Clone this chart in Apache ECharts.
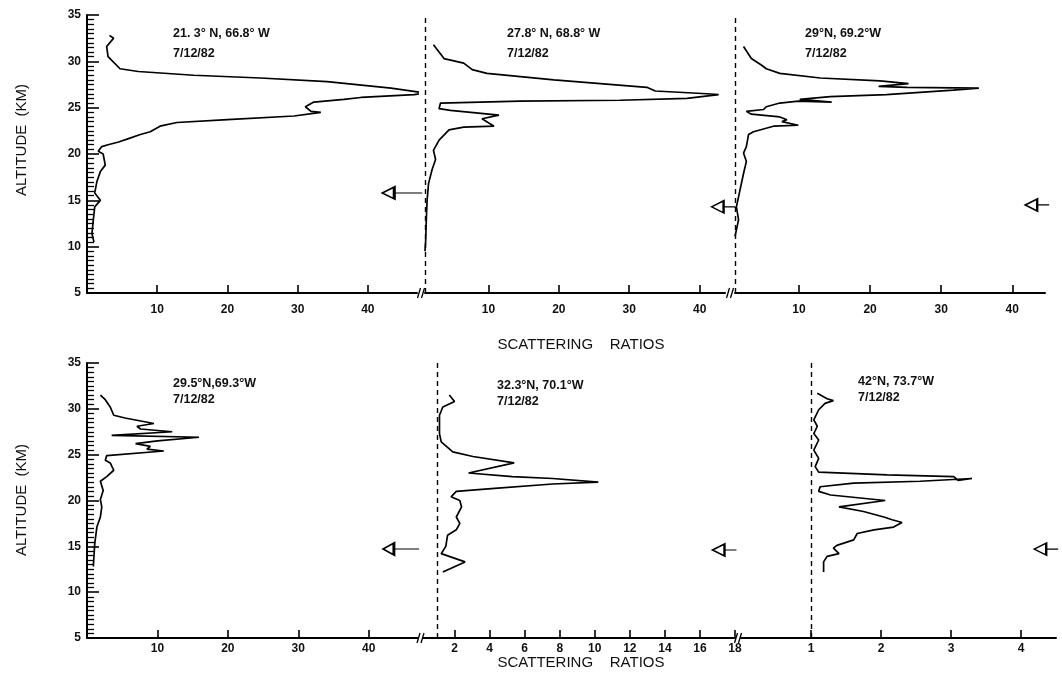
<!DOCTYPE html>
<html>
<head>
<meta charset="utf-8">
<script src="https://cdn.jsdelivr.net/npm/echarts@6/dist/echarts.min.js"></script>
<style>
  html, body { margin: 0; background: #fff; }
  #chart { width: 1062px; height: 681px; }
</style>
</head>
<body>
<div id="chart"></div>
<script>
// lidar scattering ratio profiles, 7/12/82 (ratio vs altitude km)
const p1Alt = [32.8, 32.5, 31.6, 30.5, 29.2, 28.9, 28.5, 28.2, 27.8, 27.1, 26.6, 26.4, 26.1, 25.9, 25.6, 25.1, 24.6, 24.5, 24.1, 23.7, 23.4, 23, 22.4, 22.1, 21.6, 21.3, 21, 20.8, 20.3, 20, 18.8, 18.1, 17, 15.8, 15, 14.3, 12.9, 11.4, 10.5]
const p1Ratio = [3.2, 3.8, 2.8, 3.0, 4.7, 7.3, 15.2, 24.7, 34.2, 43.3, 48, 46.6, 39, 36.6, 32.3, 31.1, 31.9, 33.3, 29.5, 20, 12.8, 10.4, 9, 7.6, 5.7, 4.5, 3, 2.1, 1.6, 2.3, 2.6, 1.9, 1.4, 1.1, 1.9, 1.1, 0.9, 0.7, 1]

const p2Alt = [31.8, 30.3, 29.8, 29.1, 28.7, 28, 27.2, 26.8, 26.5, 26.4, 26, 25.8, 25.7, 25.5, 24.9, 24.7, 24.2, 23.8, 23, 22.9, 22.6, 22.2, 21.5, 20.4, 19.4, 18.3, 16.8, 15, 13.2, 10.7, 9.5]
const p2Ratio = [2.2, 3.7, 6.5, 7.7, 9.8, 19.3, 32.5, 33.7, 41, 42.7, 38.2, 28.7, 14.5, 3.2, 3, 4.6, 11.5, 9.1, 10.8, 6.5, 4.4, 3.9, 3, 2.2, 2.5, 2, 1.5, 1.3, 1.2, 1.1, 1.0]

const p3Alt = [31.6, 30.3, 29.6, 29.2, 28.7, 28.2, 27.9, 27.6, 27.3, 27.2, 27.1, 26.9, 26.4, 26.2, 25.9, 25.6, 25.7, 25.5, 25.1, 24.8, 24.6, 24.3, 24, 23.7, 23.5, 23.1, 23, 22.4, 22.1, 20.8, 20.1, 19.2, 17.9, 16.1, 14.3, 12.9, 11.1]
const p3Ratio = [2.2, 3.3, 4.7, 5.4, 7.3, 13, 21.4, 25.4, 21.2, 25.2, 35.3, 31.7, 22.3, 14.4, 10.1, 14.6, 9.9, 7.3, 5.4, 5, 2.6, 3.3, 7.3, 8.3, 7.6, 9.9, 6.4, 3.6, 2.9, 2.6, 2.2, 2.6, 2.2, 1.7, 1.2, 1.5, 1]

const p4Alt = [31.5, 31, 30.2, 29.3, 29, 28.4, 28.1, 27.8, 27.5, 27.1, 26.9, 26.5, 26.2, 25.9, 25.6, 25.4, 24.9, 24.4, 24.1, 23.3, 22.6, 22.1, 21.1, 20.1, 19.3, 18.2, 17.1, 15.3, 12.8]
const p4Ratio = [1.9, 2.6, 3.3, 3.8, 5.4, 9.5, 7.1, 7.6, 12.1, 3.5, 15.9, 10, 6.9, 9, 8.5, 10.9, 2.8, 2.6, 3.3, 3.8, 2.8, 1.9, 2.3, 1.9, 2.1, 1.9, 1.4, 1.1, 0.9]

const p5Alt = [31.5, 30.8, 30.2, 29.3, 27.3, 26.4, 25.3, 24.8, 24.1, 23, 22.6, 22.4, 22, 21.8, 21.3, 21, 20.4, 20, 19.3, 18.2, 17.5, 16.8, 16.2, 15, 14.2, 13.3, 12.2]
const p5Ratio = [1.7, 2.0, 1.33, 1.14, 1.14, 1.24, 1.9, 3.05, 5.4, 2.8, 5.3, 7.6, 10.2, 7.6, 4.1, 2.1, 1.8, 2.3, 2.4, 2.1, 2.3, 2.1, 1.6, 1.5, 1.24, 2.6, 1.33]

const p6Alt = [31.7, 31.1, 30.9, 30.6, 29.9, 28.8, 28.1, 27.3, 26.6, 25.5, 24.6, 23.7, 23.1, 22.8, 22.6, 22.2, 22.4, 22.1, 21.9, 21.5, 21, 20.6, 20, 19.3, 18.8, 18.2, 17.9, 17.6, 17.1, 16.8, 16.4, 15.7, 15.1, 14.8, 14.2, 13.9, 13.3, 12.2]
const p6Ratio = [1.09, 1.23, 1.32, 1.2, 1.11, 1.04, 1.09, 1.04, 1.11, 1.04, 1.11, 1.06, 1.11, 2.09, 3.04, 3.1, 3.3, 2.56, 1.61, 1.13, 1.11, 1.28, 2.06, 1.4, 1.75, 2.04, 2.16, 2.3, 2.18, 1.9, 1.66, 1.61, 1.37, 1.32, 1.4, 1.23, 1.18, 1.18]

// station labels
const stations = ['21. 3° N, 66.8° W', '27.8° N, 68.8° W', '29°N, 69.2°W', '29.5°N,69.3°W', '32.3°N, 70.1°W', '42°N, 73.7°W']
const flightDate = '7/12/82'

// tick labels
const wideTicks = [10, 20, 30, 40]
const midTicks = [2, 4, 6, 8, 10, 12, 14, 16, 18]
const narrowTicks = [1, 2, 3, 4]

// arrow markers (ratio, altitude)
const arrowRatio = [44.9, 43.4, 43.5, 44.6, 17.4, 4.36]
const arrowAlt = [15.8, 14.3, 14.5, 14.7, 14.6, 14.7]

const profiles = [
  [p1Ratio, p1Alt], [p2Ratio, p2Alt], [p3Ratio, p3Alt],
  [p4Ratio, p4Alt], [p5Ratio, p5Alt], [p6Ratio, p6Alt],
]

const FONT = 'Liberation Sans'
const ROW_TOP = [15, 363]
const ROW_H = [278, 275]

// panel layout: grid position + x range
const panels = [
  { row: 0, left: 87, width: 330, min: 0, max: 47, ticks: wideTicks, base: false, txt: [173, 34], arrowW: 40 },
  { row: 0, left: 425, width: 300, min: 1, max: 43.6, ticks: wideTicks, base: true, txt: [507, 34], arrowW: 24 },
  { row: 0, left: 735, width: 310, min: 1, max: 44.6, ticks: wideTicks, base: true, txt: [805, 34], arrowW: 24 },
  { row: 1, left: 87, width: 331, min: 0, max: 47, ticks: wideTicks, base: false, txt: [173, 384], arrowW: 36 },
  { row: 1, left: 423, width: 312, min: 0.2, max: 18, ticks: midTicks, base: true, txt: [497, 386], arrowW: 24 },
  { row: 1, left: 741, width: 315, min: 0, max: 4.5, ticks: narrowTicks, base: true, txt: [858, 382], arrowW: 24 },
]

const longArrow = 'path://M0,6L12,0L12,12Z M12,6L40,6'
const shortArrow = 'path://M0,6L12,0L12,12Z M12,6L24,6'

const chart = echarts.init(document.getElementById('chart'))

const grid = panels.map((p) => ({
  left: p.left,
  width: p.width,
  top: ROW_TOP[p.row],
  height: ROW_H[p.row],
}))

const xAxis = panels.map((p, i) => ({
  type: 'value',
  gridIndex: i,
  min: p.min,
  max: p.max,
  axisLine: { lineStyle: { color: '#000', width: 2 } },
  axisTick: {
    inside: true,
    length: 8,
    customValues: p.ticks,
    lineStyle: { color: '#000', width: 1.6 },
  },
  axisLabel: {
    customValues: p.ticks,
    color: '#111',
    fontFamily: FONT,
    fontSize: 12,
    fontWeight: 'bold',
    margin: p.row === 0 ? 11 : 5,
  },
  splitLine: { show: false },
}))

const yAxis = panels.map((p, i) => {
  const first = i === 0 || i === 3
  return {
    type: 'value',
    gridIndex: i,
    min: 5,
    max: 35,
    interval: 5,
    show: first,
    axisLine: { show: first, lineStyle: { color: '#000', width: 2 } },
    axisTick: { show: first, inside: true, length: 12, lineStyle: { color: '#000', width: 1.6 } },
    minorTick: { show: first, splitNumber: 10, length: 7, lineStyle: { color: '#000', width: 1.3 } },
    axisLabel: {
      show: first,
      color: '#111',
      fontFamily: FONT,
      fontSize: 12,
      fontWeight: 'bold',
      margin: 6,
    },
    splitLine: { show: false },
  }
})

const series = panels.map((p, i) => {
  const [ratio, alt] = profiles[i]
  return {
    type: 'line',
    xAxisIndex: i,
    yAxisIndex: i,
    data: ratio.map((r, k) => [r, alt[k]]),
    showSymbol: false,
    clip: false,
    silent: true,
    lineStyle: { color: '#000', width: 1.7 },
    markLine: p.base
      ? {
          silent: true,
          symbol: 'none',
          label: { show: false },
          lineStyle: { color: '#000', type: [5, 4], width: 1.4 },
          data: [{ xAxis: 1 }],
        }
      : undefined,
    markPoint: {
      silent: true,
      symbol: p.arrowW > 30 ? longArrow : shortArrow,
      symbolSize: [p.arrowW, 12],
      itemStyle: { color: '#fff', borderColor: '#000', borderWidth: 1.7 },
      label: { show: false },
      data: [{ coord: [arrowRatio[i], arrowAlt[i]] }],
    },
  }
})

// station / date text, axis titles and the axis breaks
const graphic = []
panels.forEach((p, i) => {
  graphic.push({
    type: 'text',
    left: p.txt[0],
    top: p.txt[1] - 7,
    style: { text: stations[i], font: 'bold 12.5px ' + FONT, fill: '#111' },
  })
  graphic.push({
    type: 'text',
    left: p.txt[0],
    top: p.txt[1] + (p.row === 0 ? 13 : 9),
    style: { text: flightDate, font: 'bold 12.5px ' + FONT, fill: '#111' },
  })
})
;[140, 500].forEach((cy) => {
  graphic.push({
    type: 'text',
    x: 22,
    y: cy,
    rotation: Math.PI / 2,
    style: {
      text: 'ALTITUDE  (KM)',
      font: '15px ' + FONT,
      fill: '#111',
      align: 'center',
      verticalAlign: 'middle',
    },
  })
})
;[345, 663].forEach((cy) => {
  graphic.push({
    type: 'text',
    x: 581,
    y: cy,
    style: {
      text: 'SCATTERING    RATIOS',
      font: '15px ' + FONT,
      fill: '#111',
      align: 'center',
      verticalAlign: 'middle',
    },
  })
})
// break marks between panels, placed at the panel joins
;[[0, 1], [1, 2], [3, 4], [4, 5]].forEach(([a, b]) => {
  const pa = panels[a]
  const pb = panels[b]
  const bx = (pa.left + pa.width + pb.left) / 2
  const by = ROW_TOP[pa.row] + ROW_H[pa.row]
  ;[-2, 2].forEach((d) => {
    graphic.push({
      type: 'line',
      shape: { x1: bx + d - 1.5, y1: by + 5, x2: bx + d + 1.5, y2: by - 5 },
      style: { stroke: '#000', lineWidth: 1.3 },
    })
  })
})

chart.setOption({
  animation: false,
  backgroundColor: '#fff',
  grid,
  xAxis,
  yAxis,
  series,
  graphic,
})
</script>
</body>
</html>
